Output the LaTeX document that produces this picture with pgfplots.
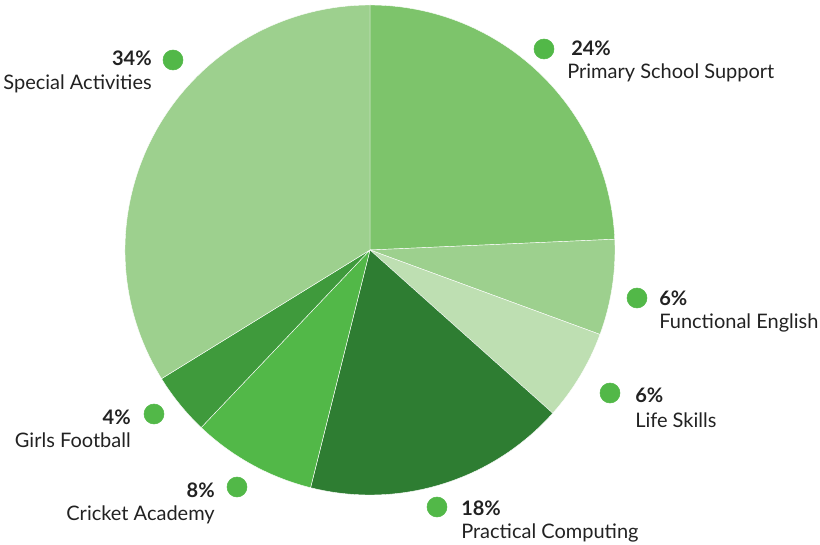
\documentclass[border=0pt]{standalone}
\usepackage{pgfplots}
\usepackage{pgfplotstable}
\pgfplotsset{compat=1.18}
\usepackage{fontspec}
\setmainfont{Lato}

\definecolor{slice0}{HTML}{7DC46B}
\definecolor{slice1}{HTML}{9DD08E}
\definecolor{slice2}{HTML}{BEDFB2}
\definecolor{slice3}{HTML}{2E7D32}
\definecolor{slice4}{HTML}{52B848}
\definecolor{slice5}{HTML}{3F9A3C}
\definecolor{slice6}{HTML}{9DD08E}
\definecolor{dotgreen}{HTML}{52B848}
\definecolor{txt}{HTML}{222222}

% share of each programme, clockwise from 12 o'clock
\pgfplotstableread{
idx pct
0   24.3
1   6.3
2   6.0
3   17.3
4   8.2
5   4.1
6   33.8
}\piedata

\begin{document}
\begin{tikzpicture}[font=\fontsize{15}{17}\selectfont]
\tikzset{
  pct/.style={inner sep=0pt, text=txt, font=\fontsize{15}{17}\selectfont\bfseries},
  lbl/.style={inner sep=0pt, text=txt},
}
\begin{axis}[
    x=0.75pt, y=0.75pt,
    xmin=0, xmax=820, ymin=0, ymax=545,
    y dir=reverse,
    hide axis,
    clip=false,
]
\pgfplotsextra{
  \xdef\startang{90}
  \foreach \i in {0,...,6}{
    \pgfplotstablegetelem{\i}{pct}\of\piedata
    \pgfmathsetmacro\endang{\startang-3.6*\pgfplotsretval}
    \fill[fill=slice\i, draw=white, line width=0.3pt]
      (axis cs:370,250) -- ++(\startang:183.75pt)
      arc[start angle=\startang, end angle=\endang, radius=183.75pt] -- cycle;
    \xdef\startang{\endang}
  }
}
% label dots
\addplot[only marks, mark=*, mark size=7.5pt, color=dotgreen, mark options={draw=none}]
  coordinates {(544,49) (637,298) (610,393) (437,507) (237,487) (154,414) (173,60)};

% labels, right side
\node[pct, anchor=base west] at (axis cs:571,56) {24\%};
\node[lbl, anchor=base west] at (axis cs:567,79) {Primary School Support};
\node[pct, anchor=base west] at (axis cs:659,305) {6\%};
\node[lbl, anchor=base west] at (axis cs:659,328) {Functional English};
\node[pct, anchor=base west] at (axis cs:635,402) {6\%};
\node[lbl, anchor=base west] at (axis cs:635,427) {Life Skills};
\node[pct, anchor=base west] at (axis cs:461,515) {18\%};
\node[lbl, anchor=base west] at (axis cs:461,538) {Practical Computing};
% labels, left side
\node[pct, anchor=base east] at (axis cs:215,497) {8\%};
\node[lbl, anchor=base east] at (axis cs:215,520) {Cricket Academy};
\node[pct, anchor=base east] at (axis cs:131,424) {4\%};
\node[lbl, anchor=base east] at (axis cs:131,447) {Girls Football};
\node[pct, anchor=base east] at (axis cs:152,66) {34\%};
\node[lbl, anchor=base east] at (axis cs:152,90) {Special Activities};
\end{axis}
\pgfresetboundingbox
\path (0,0) rectangle (615pt,408.75pt);
\end{tikzpicture}
\end{document}
